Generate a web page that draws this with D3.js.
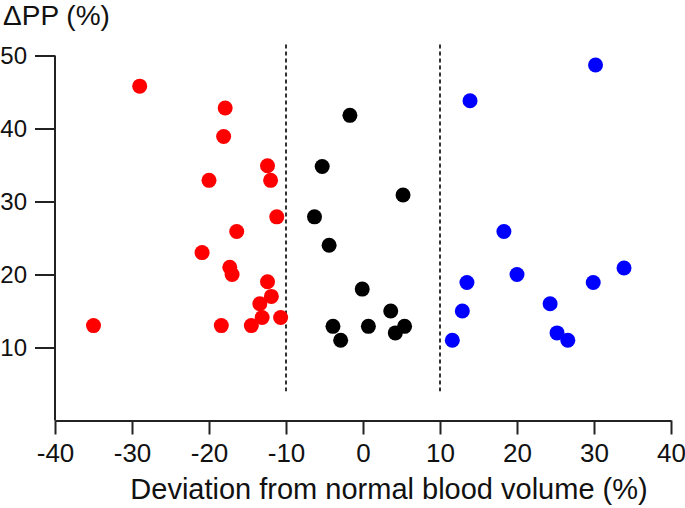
<!DOCTYPE html>
<html>
<head>
<meta charset="utf-8">
<script src="https://cdn.jsdelivr.net/npm/d3@7"></script>
<style>
  body { margin: 0; background: #fff; }
  text { font-family: Arial, 'Liberation Sans', sans-serif; fill: #111; }
</style>
</head>
<body>
<div id="chart"></div>
<script>
let width = 685;
let height = 508;

// deviation from normal blood volume (%) and ΔPP (%) per group
let hypoX = [-35, -29, -17.9, -18.1, -12.4, -12, -20, -11.2, -16.4, -20.9, -17.3, -17, -12.4, -11.9, -13.4, -13.1, -10.7, -18.4, -14.5];
let hypoY = [13, 45.8, 42.8, 38.9, 34.9, 32.9, 32.9, 27.9, 25.9, 23, 21, 20, 19, 17, 16, 14.1, 14.1, 13, 13];
let normoX = [-1.7, -5.3, 5.2, -6.3, -4.4, -0.1, 3.6, -3.9, 0.7, 5.4, 4.2, -2.9];
let normoY = [41.8, 34.8, 30.9, 27.9, 24, 18, 15, 12.9, 12.9, 12.9, 12, 11];
let hyperX = [30.2, 13.9, 18.3, 33.9, 13.5, 20, 29.9, 24.3, 12.9, 25.2, 26.6, 11.6];
let hyperY = [48.7, 43.8, 25.9, 20.9, 18.9, 20, 18.9, 16, 15, 12, 11, 11];

let xTicks = [-40, -30, -20, -10, 0, 10, 20, 30, 40];
let yTicks = [10, 20, 30, 40, 50];
let cutoffs = [-10, 10];

let groups = [
  { xs: hypoX, ys: hypoY, color: '#ff0000' },
  { xs: normoX, ys: normoY, color: '#000000' },
  { xs: hyperX, ys: hyperY, color: '#0000ff' }
];

let svg = d3.select('#chart')
  .append('svg')
  .attr('width', width)
  .attr('height', height);

let x = d3.scaleLinear().domain([-40, 40]).range([55, 671]);
let y = d3.scaleLinear().domain([0, 50]).range([420.5, 55.5]);

// dashed cutoff lines
svg.selectAll('.cut')
  .data(cutoffs)
  .enter()
  .append('line')
  .attr('class', 'cut')
  .attr('x1', d => x(d))
  .attr('x2', d => x(d))
  .attr('y1', y(51.5))
  .attr('y2', y(4))
  .attr('stroke', '#333')
  .attr('stroke-width', 2)
  .attr('stroke-dasharray', '4,3');

// axes (plain hyphen for negatives, like the original)
let xAxis = svg.append('g')
  .attr('transform', 'translate(0,' + y(0) + ')')
  .call(d3.axisBottom(x).tickValues(xTicks).tickFormat(d => String(d))
    .tickSize(14).tickSizeOuter(0).tickPadding(9));

let yAxis = svg.append('g')
  .attr('transform', 'translate(' + x(-40) + ',0)')
  .call(d3.axisLeft(y).tickValues(yTicks).tickFormat(d => String(d))
    .tickSize(20).tickSizeOuter(0).tickPadding(8));

[xAxis, yAxis].forEach(function(g) {
  g.select('.domain').attr('stroke', '#222').attr('stroke-width', 2);
  g.selectAll('.tick line').attr('stroke', '#222').attr('stroke-width', 2);
  g.selectAll('.tick text')
    .style('font-family', "Arial, 'Liberation Sans', sans-serif")
    .attr('fill', '#111');
});
xAxis.selectAll('.tick text').style('font-size', '26px');
yAxis.selectAll('.tick text').style('font-size', '24px');

yAxis.select('.domain').attr('d', 'M0,' + y(0) + 'V' + y(50));

// points
groups.forEach(function(gr) {
  svg.append('g')
    .selectAll('circle')
    .data(gr.xs.map((v, i) => [v, gr.ys[i]]))
    .enter()
    .append('circle')
    .attr('cx', d => x(d[0]))
    .attr('cy', d => y(d[1]))
    .attr('r', 7.5)
    .attr('fill', gr.color);
});

// titles
svg.append('text')
  .attr('x', 3)
  .attr('y', 25)
  .text('ΔPP (%)')
  .style('font-size', '28px');

svg.append('text')
  .attr('x', 389)
  .attr('y', 499)
  .attr('text-anchor', 'middle')
  .text('Deviation from normal blood volume (%)')
  .style('font-size', '29px');
</script>
</body>
</html>
